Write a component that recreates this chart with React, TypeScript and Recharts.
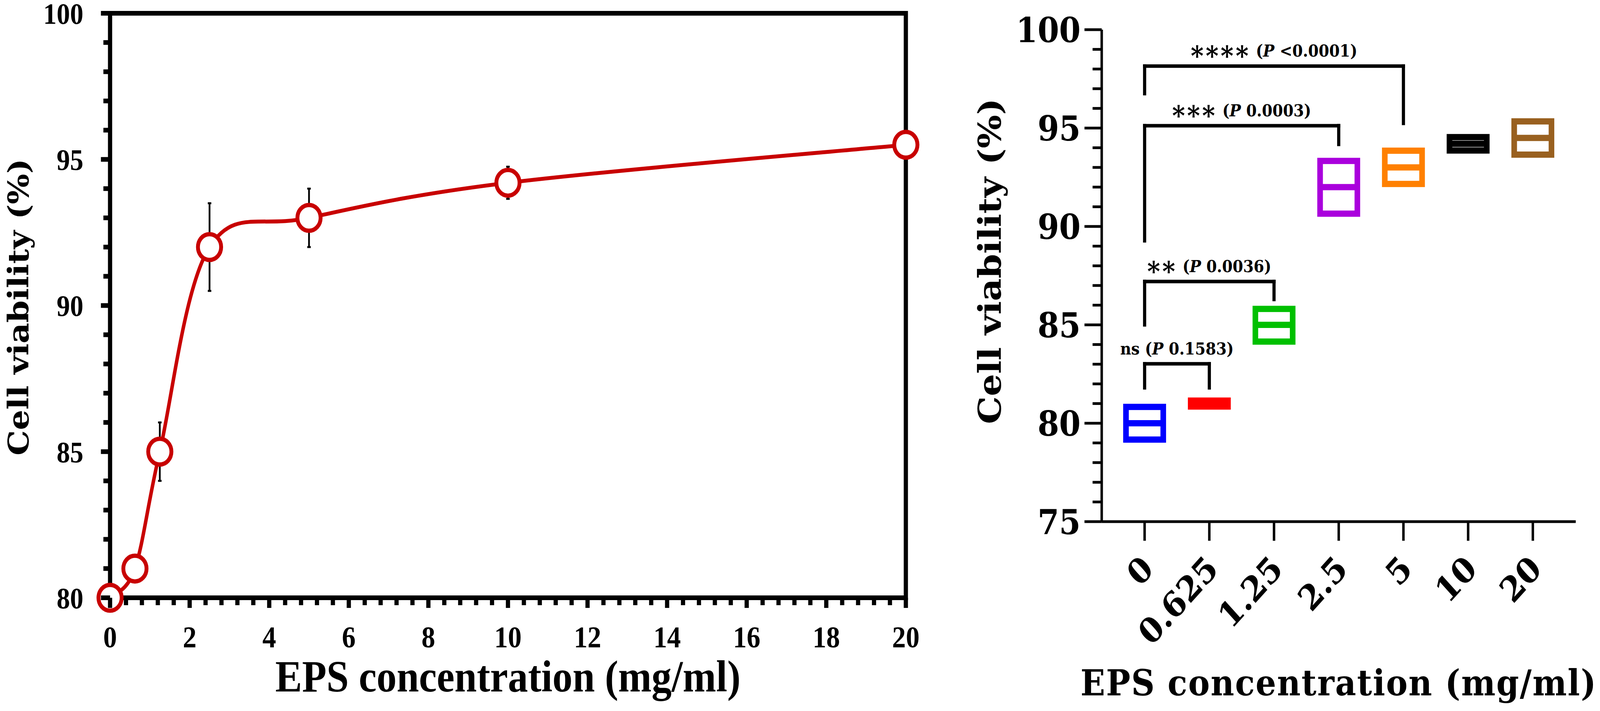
import React from 'react';
import {
  LineChart,
  Line,
  XAxis,
  YAxis,
  ErrorBar,
  ReferenceArea,
  BarChart,
  Bar,
  ReferenceLine,
} from 'recharts';

// left panel: dose-response curve
const concentration = [0, 0.625, 1.25, 2.5, 5, 10, 20];
const viability = [80, 81, 85, 92, 93, 94.2, 95.5];
const viabilitySd = [0, 0, 1, 1.5, 1, 0.55, 0];

// right panel: floating boxes (min - max, line at mean)
const groups = ['0', '0.625', '1.25', '2.5', '5', '10', '20'];
const boxLow = [79.17, 80.85, 84.15, 90.65, 92.16, 93.86, 93.65];
const boxHigh = [80.83, 81.15, 85.81, 93.33, 93.85, 94.54, 95.34];
const boxMean = [80, 81, 85, 92, 93, 94.2, 94.5];
const boxColors = ['#0000ff', '#ff0000', '#00c000', '#aa00dd', '#ff8000', '#000000', '#99601f'];

// significance brackets
const bracketFrom = ['0', '0', '0', '0'];
const bracketTo = ['0.625', '1.25', '2.5', '5'];
const bracketTop = [83.02, 87.2, 95.12, 98.15];
const bracketLeftEnd = [81.8, 85.0, 89.27, 96.75];
const bracketRightEnd = [81.8, 86.29, 94.17, 95.24];
const bracketStars = ['ns', '**', '***', '****'];
const bracketP = ['0.1583', '0.0036', '0.0003', '<0.0001'];

// tick labels
const leftXMajor = [0, 2, 4, 6, 8, 10, 12, 14, 16, 18, 20];
const leftYMajor = [80, 85, 90, 95, 100];
const rightYMajor = [75, 80, 85, 90, 95, 100];

const RED = '#c80000';
const FIG_W = 4550;
const FIG_H = 1821;

// adds minor ticks between each pair of majors
const withMinor = (major: number[], parts: number) => {
  const out: number[] = [major[0]];
  for (let i = 1; i < major.length; i++) {
    const prev = major[i - 1];
    for (let k = 1; k <= parts; k++) {
      out.push(+(prev + ((major[i] - prev) * k) / parts).toFixed(4));
    }
  }
  return out;
};

const isMajor = (list: number[], v: number) => list.some((m) => Math.abs(m - v) < 1e-6);

// spreadsheet-style smoothed line (cardinal spline, k = 1/6)
const smoothCurve = (context: any) => {
  let pts: number[][] = [];
  return {
    areaStart() {},
    areaEnd() {},
    lineStart() {
      pts = [];
    },
    point(x: number, y: number) {
      pts.push([+x, +y]);
    },
    lineEnd() {
      const n = pts.length;
      if (!n) return;
      context.moveTo(pts[0][0], pts[0][1]);
      for (let i = 0; i < n - 1; i++) {
        const p0 = pts[Math.max(i - 1, 0)];
        const p1 = pts[i];
        const p2 = pts[i + 1];
        const p3 = pts[Math.min(i + 2, n - 1)];
        context.bezierCurveTo(
          p1[0] + (p2[0] - p0[0]) / 6,
          p1[1] + (p2[1] - p0[1]) / 6,
          p2[0] - (p3[0] - p1[0]) / 6,
          p2[1] - (p3[1] - p1[1]) / 6,
          p2[0],
          p2[1],
        );
      }
    },
  };
};

const leftData = concentration.map((c, i) => ({ c, v: viability[i], sd: viabilitySd[i] }));
const rightData = groups.map((g, i) => ({
  g,
  range: [boxLow[i], boxHigh[i]],
  mean: boxMean[i],
  color: boxColors[i],
}));

const LeftXTick = (props: any) => {
  const { x, y, payload } = props;
  const major = isMajor(leftXMajor, payload.value);
  return (
    <g>
      <line x1={x} x2={x} y1={y} y2={y + (major ? 26 : 19)} stroke="#000" strokeWidth={12} />
      {major && (
        <text x={x} y={y + 127} textAnchor="middle" fontFamily="Liberation Serif" fontWeight="bold" fontSize={78} fill="#000">
          {payload.value}
        </text>
      )}
    </g>
  );
};

const LeftYTick = (props: any) => {
  const { x, y, payload } = props;
  const major = isMajor(leftYMajor, payload.value);
  return (
    <g>
      <line x1={x} x2={x - (major ? 26 : 19)} y1={y} y2={y} stroke="#000" strokeWidth={12} />
      {major && (
        <text x={x - 76} y={y + 27} textAnchor="end" fontFamily="Liberation Serif" fontWeight="bold" fontSize={76} fill="#000">
          {payload.value}
        </text>
      )}
    </g>
  );
};

const RightYTick = (props: any) => {
  const { x, y, payload } = props;
  const major = isMajor(rightYMajor, payload.value);
  return (
    <g>
      <line x1={x} x2={x - (major ? 49 : 26)} y1={y} y2={y} stroke="#000" strokeWidth={7} />
      {major && (
        <text x={x - 60} y={y + 32} textAnchor="end" fontFamily="DejaVu Serif" fontWeight="bold" fontSize={88} fill="#000">
          {payload.value}
        </text>
      )}
    </g>
  );
};

const RightXTick = (props: any) => {
  const { x, y, payload } = props;
  const tx = x + 30;
  const ty = y + 126;
  return (
    <g>
      <line x1={x} x2={x} y1={y} y2={y + 49} stroke="#000" strokeWidth={7} />
      <text
        x={tx}
        y={ty}
        textAnchor="end"
        transform={`rotate(-45, ${tx}, ${ty})`}
        fontFamily="DejaVu Serif"
        fontWeight="bold"
        fontSize={88}
        fill="#000"
      >
        {payload.value}
      </text>
    </g>
  );
};

const AxisTitle = (props: any) => {
  const { viewBox, text, vertical, dx = 0, dy = 0, family, size, spacing = 0 } = props;
  const cx = vertical ? viewBox.x + viewBox.width + dx : viewBox.x + viewBox.width / 2 + dx;
  const cy = vertical ? viewBox.y + viewBox.height / 2 + dy : viewBox.y + dy;
  return (
    <text
      x={cx}
      y={cy}
      textAnchor="middle"
      transform={vertical ? `rotate(-90, ${cx}, ${cy})` : undefined}
      fontFamily={family}
      fontWeight="bold"
      fontSize={size}
      letterSpacing={spacing}
      fill="#000"
    >
      {text}
    </text>
  );
};

const BracketLabel = (props: any) => {
  const { viewBox, stars, p } = props;
  const cx = viewBox.x + viewBox.width / 2;
  const y = viewBox.y - 24;
  const ns = stars === 'ns';
  return (
    <text x={cx} y={y} textAnchor="middle" fontFamily="DejaVu Serif" fontWeight="bold" fontSize={43} fill="#000">
      {ns ? (
        <tspan>ns</tspan>
      ) : (
        <tspan fontSize={70} letterSpacing={6} dy={22}>
          {stars}
        </tspan>
      )}
      <tspan dy={ns ? 0 : -22}> (</tspan>
      <tspan fontStyle="italic">P</tspan>
      <tspan> {p})</tspan>
    </text>
  );
};

const BoxShape = (props: any) => {
  const { x, y, width, height, payload } = props;
  const top = Math.min(y, y + height);
  const h = Math.abs(height);
  const [lo, hi] = payload.range;
  const my = top + (h * (hi - payload.mean)) / (hi - lo);
  return (
    <g>
      <rect x={x} y={top} width={width} height={h} fill="none" stroke={payload.color} strokeWidth={16} />
      <line x1={x} x2={x + width} y1={my} y2={my} stroke={payload.color} strokeWidth={16} />
    </g>
  );
};

export default function App() {
  const vw = typeof window !== 'undefined' ? window.innerWidth : FIG_W;
  const vh = typeof window !== 'undefined' ? window.innerHeight : FIG_H;
  // the browser window can be narrower than the figure: squeeze the figure to fit it
  const sx = Math.min(1, vw / FIG_W);
  const sy = Math.min(1, vh / FIG_H);
  return (
    <div style={{ position: 'absolute', left: 0, top: 0, width: '100vw', height: '100vh', overflow: 'hidden', background: '#fff' }}>
      <div
        style={{
          position: 'absolute',
          left: 0,
          top: 0,
          width: FIG_W,
          height: FIG_H,
          transform: `scale(${sx}, ${sy})`,
          transformOrigin: '0 0',
        }}
      >
        <div style={{ position: 'absolute', left: 0, top: 0 }}>
          <LineChart width={2700} height={1821} data={leftData} margin={{ top: 34, right: 124, bottom: 40, left: 63 }}>
            <XAxis
              dataKey="c"
              type="number"
              domain={[0, 20]}
              ticks={withMinor(leftXMajor, 5)}
              interval={0}
              tickSize={0}
              tickMargin={0}
              tickLine={false}
              axisLine={false}
              tick={<LeftXTick />}
              height={250}
              label={<AxisTitle text="EPS concentration (mg/ml)" dy={240} family="Liberation Serif" size={114} />}
            />
            <YAxis
              type="number"
              domain={[80, 100]}
              ticks={withMinor(leftYMajor, 5)}
              interval={0}
              tickSize={0}
              tickMargin={0}
              tickLine={false}
              axisLine={false}
              tick={<LeftYTick />}
              width={250}
              label={<AxisTitle text="Cell viability (%)" vertical dx={-232} dy={4} family="DejaVu Serif" size={82} />}
            />
            <ReferenceArea x1={0} x2={20} y1={80} y2={100} fill="none" stroke="#000" strokeWidth={12} ifOverflow="visible" />
            <Line
              dataKey="v"
              type={smoothCurve as any}
              stroke={RED}
              strokeWidth={10}
              dot={{ r: 33, fill: '#fff', stroke: RED, strokeWidth: 11 }}
              isAnimationActive={false}
            >
              <ErrorBar dataKey="sd" direction="y" width={5} stroke="#000" strokeWidth={5} />
            </Line>
          </LineChart>
        </div>
        <div style={{ position: 'absolute', left: 2700, top: 0 }}>
          <BarChart width={1850} height={1821} data={rightData} margin={{ top: 76, right: 69, bottom: 185, left: 133 }}>
            <XAxis
              dataKey="g"
              type="category"
              padding={{ left: 30, right: 30 }}
              interval={0}
              tickSize={0}
              tickMargin={0}
              tickLine={false}
              axisLine={{ stroke: '#000', strokeWidth: 7 }}
              tick={<RightXTick />}
              height={300}
              label={<AxisTitle text="EPS concentration (mg/ml)" dy={445} family="DejaVu Serif" size={92} spacing={2.5} />}
            />
            <YAxis
              type="number"
              domain={[75, 100]}
              ticks={withMinor(rightYMajor, 5)}
              interval={0}
              tickSize={0}
              tickMargin={0}
              tickLine={false}
              axisLine={{ stroke: '#000', strokeWidth: 7 }}
              tick={<RightYTick />}
              width={300}
              label={<AxisTitle text="Cell viability (%)" vertical dx={-287} dy={-37} family="DejaVu Serif" size={90} />}
            />
            {bracketTop.map((top, i) => (
              <ReferenceLine
                key={`h${i}`}
                segment={[
                  { x: bracketFrom[i], y: top },
                  { x: bracketTo[i], y: top },
                ]}
                stroke="#000"
                strokeWidth={9}
                strokeLinecap="square"
                label={<BracketLabel stars={bracketStars[i]} p={bracketP[i]} />}
              />
            ))}
            {bracketTop.map((top, i) => (
              <ReferenceLine
                key={`l${i}`}
                segment={[
                  { x: bracketFrom[i], y: top },
                  { x: bracketFrom[i], y: bracketLeftEnd[i] },
                ]}
                stroke="#000"
                strokeWidth={9}
                strokeLinecap="square"
              />
            ))}
            {bracketTop.map((top, i) => (
              <ReferenceLine
                key={`r${i}`}
                segment={[
                  { x: bracketTo[i], y: top },
                  { x: bracketTo[i], y: bracketRightEnd[i] },
                ]}
                stroke="#000"
                strokeWidth={9}
                strokeLinecap="square"
              />
            ))}
            <Bar dataKey="range" barSize={106} shape={<BoxShape />} isAnimationActive={false} />
          </BarChart>
        </div>
      </div>
    </div>
  );
}
